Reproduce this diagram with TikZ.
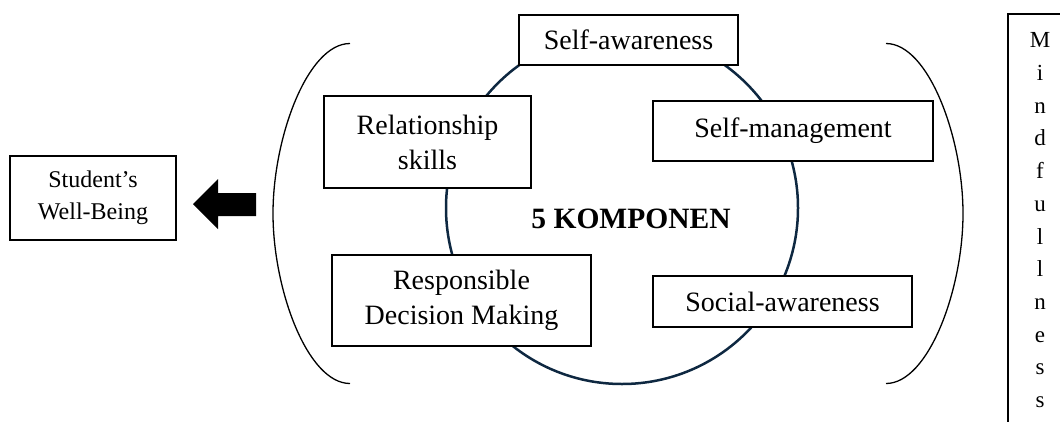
\documentclass[tikz,border=0pt]{standalone}
\usepackage{fontspec}
\setmainfont{Liberation Serif}
\definecolor{navy}{HTML}{0E2841}
\begin{document}
\begin{tikzpicture}[x=1pt,y=-1pt,
  box/.style={draw, line width=2pt, fill=white, inner sep=0pt, align=center,
    font=\fontsize{28}{35}\selectfont},
  paren/.style={line width=1.3pt},
  ring/.style={circle, draw=navy, line width=2.5pt, inner sep=0pt, minimum size=352pt}]
\useasboundingbox (0,0) rectangle (1060,421);
% brackets
\coordinate (lt) at (350,43.5);
\coordinate (lm) at (273,213.5);
\coordinate (lb) at (350,383.5);
\coordinate (rt) at (886,43.5);
\coordinate (rm) at (963,213.5);
\coordinate (rb) at (886,383.5);
\draw[paren] (lt) .. controls (307.5,43.5) and (273,137.6) .. (lm)
  .. controls (273,289.4) and (307.5,383.5) .. (lb);
\draw[paren] (rt) .. controls (928.5,43.5) and (963,137.6) .. (rm)
  .. controls (963,289.4) and (928.5,383.5) .. (rb);
% circle
\node[ring] (circ) at (622,208) {};
% component boxes
\node[box, minimum width=219pt, minimum height=50pt] (sa) at (628.5,40) {Self-awareness};
\node[box, minimum width=207pt, minimum height=92pt] (rs) at (427.5,142) {Relationship\\skills};
\node[box, minimum width=280pt, minimum height=60pt] (sm) at (793,131) {Self-management};
\node[box, minimum width=259pt, minimum height=91pt] (rd) at (461.5,300.5) {Responsible\\Decision Making};
\node[box, minimum width=259pt, minimum height=51pt] (so) at (782.5,301.5) {Social-awareness};
\node[font=\fontsize{29.5}{36}\selectfont\bfseries, anchor=base, inner sep=0pt] (komp) at (631,228) {5 KOMPONEN};
% student box and arrow
\node[box, font=\fontsize{24}{32}\selectfont, minimum width=166pt, minimum height=84pt] (stud) at (93,198) {Student’s\\Well-Being};
\coordinate (tip) at (193,204);
\fill (tip) -- (218,179) -- (218,193) -- (256,193) -- (256,216) -- (218,216) -- (218,229) -- cycle;
% mindfulness
\node[draw, line width=2pt, inner xsep=0pt, inner ysep=18.8pt, minimum width=64pt,
  anchor=north, align=center, font=\fontsize{23}{32.7}\selectfont] (mind) at (1040,13)
  {M\\i\\n\\d\\f\\u\\l\\l\\n\\e\\s\\s};
\end{tikzpicture}
\end{document}
